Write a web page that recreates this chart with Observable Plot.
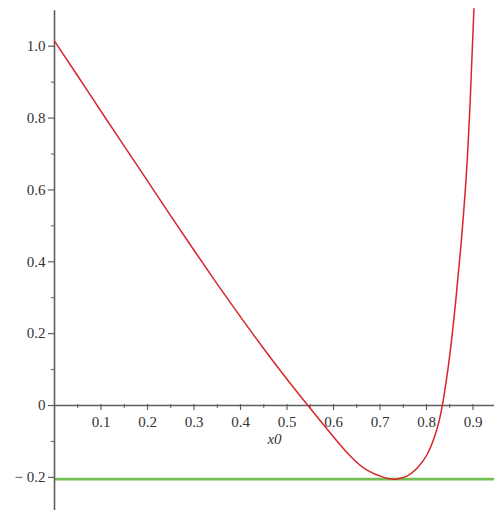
<!DOCTYPE html>
<html>
<head>
<meta charset="utf-8">
<script src="https://cdn.jsdelivr.net/npm/d3@7"></script>
<script src="https://cdn.jsdelivr.net/npm/@observablehq/plot@0.6"></script>
<style>
  html, body { margin: 0; padding: 0; background: #fff; }
  #chart svg { display: block; }
</style>
</head>
<body>
<div id="chart"></div>
<script>
// Curve values
const curveX = [0, 0.05, 0.1, 0.15, 0.2, 0.25, 0.3, 0.35, 0.4, 0.45, 0.5, 0.545, 0.572, 0.601, 0.637, 0.672, 0.708, 0.733, 0.759, 0.780, 0.801, 0.819, 0.834, 0.850, 0.862, 0.873, 0.885, 0.894, 0.902];
const curveY = [1.014, 0.917, 0.819, 0.722, 0.625, 0.528, 0.432, 0.338, 0.2465, 0.158, 0.073, 0, -0.043, -0.089, -0.142, -0.180, -0.200, -0.205, -0.196, -0.174, -0.137, -0.080, 0, 0.140, 0.280, 0.430, 0.630, 0.850, 1.104];
const greenLevel = [-0.205];

// Axis ticks and labels
const xMajor = [0.1, 0.2, 0.3, 0.4, 0.5, 0.6, 0.7, 0.8, 0.9];
const xMinor = [0.05, 0.15, 0.25, 0.35, 0.45, 0.55, 0.65, 0.75, 0.85];
const xLabels = ["0.1", "0.2", "0.3", "0.4", "0.5", "0.6", "0.7", "0.8", "0.9"];
const yMajor = [-0.2, 0, 0.2, 0.4, 0.6, 0.8, 1.0];
const yMinor = [-0.1, 0.1, 0.3, 0.5, 0.7, 0.9];
const yLabels = ["\u2212 0.2", "0", "0.2", "0.4", "0.6", "0.8", "1.0"];
const xTitle = "x0";

const xMax = 0.9462;
const yMin = -0.2922, yMax = 1.1272, yAxisTop = 1.099;

const curve = curveX.map((x, i) => ({x, y: curveY[i]}));
const axisColor = "#5e5e5e";
const font = "Liberation Serif, DejaVu Serif, serif";

const chart = Plot.plot({
  width: 494,
  height: 510,
  marginLeft: 54,
  marginRight: 0,
  marginTop: 0,
  marginBottom: 0,
  x: {domain: [0, xMax], axis: null},
  y: {domain: [yMin, yMax], axis: null},
  style: {fontFamily: font, background: "#fff"},
  marks: [
    Plot.ruleY(greenLevel, {y: d => d, x1: 0, x2: xMax, stroke: "#74c052", strokeWidth: 2.6}),
    Plot.ruleY([0], {x1: 0, x2: xMax, stroke: axisColor, strokeWidth: 1.4}),
    Plot.ruleX([0], {y1: yMin, y2: yAxisTop, stroke: axisColor, strokeWidth: 1.6}),
    Plot.ruleX(xMajor, {x: d => d, y1: 0, y2: 0, insetTop: -1, insetBottom: -5, stroke: axisColor, strokeWidth: 1.2}),
    Plot.ruleX(xMinor, {x: d => d, y1: 0, y2: 0, insetTop: -1, insetBottom: -3, stroke: axisColor, strokeWidth: 1}),
    Plot.ruleY(yMajor, {y: d => d, x1: 0, x2: 0, insetLeft: -6, insetRight: 0, stroke: axisColor, strokeWidth: 1.2}),
    Plot.ruleY(yMinor, {y: d => d, x1: 0, x2: 0, insetLeft: -3, insetRight: 0, stroke: axisColor, strokeWidth: 1}),
    Plot.text(xMajor, {x: d => d, y: 0, text: (d, i) => xLabels[i], dy: 17, fontSize: 15, fill: "#333", fontFamily: font}),
    Plot.text(yMajor, {x: 0, y: d => d, text: (d, i) => yLabels[i], dx: -9, textAnchor: "end", fontSize: 15, fill: "#333", fontFamily: font}),
    Plot.text([xTitle], {x: 0.473, y: 0, text: d => d, dy: 34, fontSize: 15, fontStyle: "italic", fill: "#333", fontFamily: font}),
    Plot.line(curve, {x: "x", y: "y", curve: "natural", stroke: "#d8262a", strokeWidth: 1.5})
  ]
});
document.getElementById("chart").appendChild(chart);
</script>
</body>
</html>
